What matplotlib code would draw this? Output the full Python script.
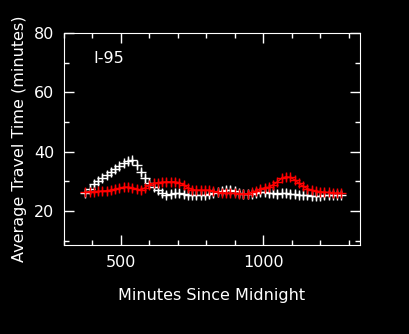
import numpy as np
import matplotlib
matplotlib.use("Agg")
import matplotlib.pyplot as plt
from matplotlib.ticker import MultipleLocator

# minutes since midnight, sampled every 15 minutes
minutes = [375, 390, 405, 420, 435, 450, 465, 480, 495, 510,
           525, 540, 555, 570, 585, 600, 615, 630, 645, 660,
           675, 690, 705, 720, 735, 750, 765, 780, 795, 810,
           825, 840, 855, 870, 885, 900, 915, 930, 945, 960,
           975, 990, 1005, 1020, 1035, 1050, 1065, 1080, 1095, 1110,
           1125, 1140, 1155, 1170, 1185, 1200, 1215, 1230, 1245, 1260,
           1275]

white_times = [26.0, 27.5, 29.0, 30.0, 31.0, 32.0, 33.0, 34.0, 35.0, 36.0,
               36.8, 37.0, 35.5, 33.0, 31.0, 29.5, 28.0, 27.0, 26.0, 25.5,
               25.8, 26.0, 26.0, 25.7, 25.5, 25.5, 25.3, 25.5, 25.5, 25.7,
               26.0, 26.5, 26.8, 27.0, 27.0, 26.8, 26.0, 25.8, 25.7, 25.7,
               26.0, 26.3, 26.2, 26.0, 26.0, 25.8, 26.0, 26.0, 25.8, 25.7,
               25.5, 25.3, 25.2, 25.0, 25.0, 25.0, 25.2, 25.3, 25.5, 25.5,
               25.5]

red_times = [26.3, 26.5, 26.5, 26.6, 26.7, 26.8, 27.0, 27.3, 27.6, 28.0,
             28.0, 27.8, 27.4, 27.0, 27.8, 28.8, 29.3, 29.5, 29.7, 29.8,
             29.8, 29.8, 29.5, 28.8, 27.8, 27.2, 27.0, 27.0, 27.0, 27.0,
             26.6, 26.2, 26.0, 26.0, 26.0, 25.9, 25.8, 25.7, 25.8, 26.2,
             26.8, 27.3, 27.8, 28.0, 28.8, 29.8, 31.0, 31.5, 31.3, 30.5,
             29.3, 28.3, 27.5, 27.0, 26.7, 26.5, 26.3, 26.2, 26.0, 26.0,
             26.0]

err = 1.3
fs = 11.5

fig = plt.figure(figsize=(4.1, 3.34), dpi=100, facecolor="black")
ax = fig.add_axes([0.156, 0.2665, 0.722, 0.635])
ax.set_facecolor("black")

ax.errorbar(minutes, white_times, yerr=err, fmt="+", color="white",
            markersize=7, elinewidth=1, mew=1, capsize=0)
ax.errorbar(minutes, red_times, yerr=err, fmt="+-", color="red",
            markersize=7, elinewidth=1, mew=1, lw=1, capsize=0)

ax.set_xlim(300, 1340)
ax.set_ylim(8.5, 80)
ax.xaxis.set_major_locator(MultipleLocator(500))
ax.xaxis.set_minor_locator(MultipleLocator(100))
ax.yaxis.set_major_locator(MultipleLocator(20))
ax.yaxis.set_minor_locator(MultipleLocator(10))
ax.tick_params(which="both", direction="in", top=True, right=True,
               colors="white", labelsize=fs, pad=7)
ax.tick_params(which="major", length=7, width=1)
ax.tick_params(which="minor", length=3.5, width=1)
for s in ax.spines.values():
    s.set_color("white")

ax.text(402, 71.5, "I-95", color="white", fontsize=fs, va="center")

ax.set_xlabel("Minutes Since Midnight", color="white", fontsize=fs)
ax.set_ylabel("Average Travel Time (minutes)", color="white", fontsize=fs)
ax.xaxis.set_label_coords(0.5, -0.205)
ax.yaxis.set_label_coords(-0.125, 0.5)

fig.savefig("out.png", dpi=100, facecolor="black")
